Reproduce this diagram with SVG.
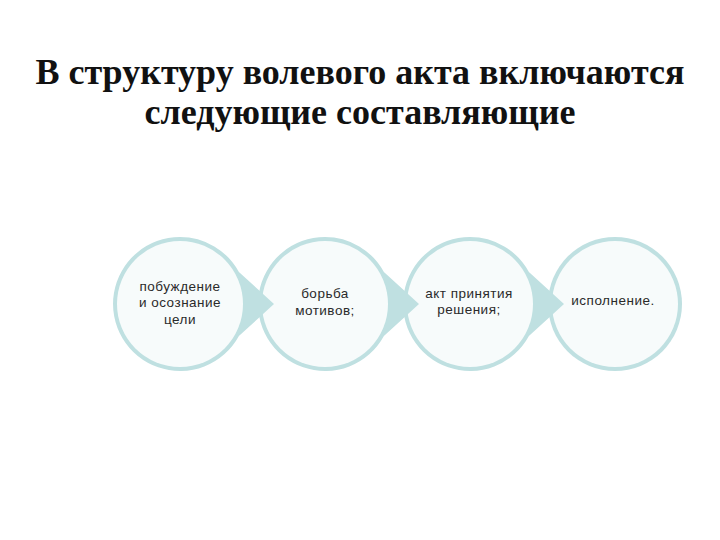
<svg xmlns="http://www.w3.org/2000/svg" width="720" height="540" viewBox="0 0 720 540">
<style>
.title{font-family:"Liberation Serif","Times New Roman",serif;font-weight:bold;font-size:36px;fill:#111;text-anchor:middle}
.lbl{font-family:"Liberation Sans",Arial,sans-serif;font-size:13.5px;fill:#2a2a2a;text-anchor:middle;letter-spacing:0.5px}
.shape{fill:#bfe0e1}
.inner{fill:#f7fbfb}
</style>
<defs>
<path id="drop" d="M 0 -67 A 67 67 0 1 0 58.9 32 L 94 0 L 58.9 -32 A 67 67 0 0 0 0 -67 Z"/>
</defs>
<rect width="720" height="540" fill="#ffffff"/>
<text class="title" x="360" y="84">В структуру волевого акта включаются</text>
<text class="title" x="360" y="124">следующие составляющие</text>
<g id="connectors"></g>
<g id="node4">
<circle cx="615" cy="304" r="67" class="shape"/>
<circle cx="615" cy="304" r="63" class="inner"/>
<text class="lbl" x="613" y="305">исполнение.</text>
</g>
<g id="node3">
<use href="#drop" class="shape" x="470" y="304"/>
<circle cx="470" cy="304" r="63" class="inner"/>
<text class="lbl" x="469" y="298">акт принятия</text>
<text class="lbl" x="469" y="314">решения;</text>
</g>
<g id="node2">
<use href="#drop" class="shape" x="325" y="304"/>
<circle cx="325" cy="304" r="63" class="inner"/>
<text class="lbl" x="325" y="298">борьба</text>
<text class="lbl" x="325" y="315">мотивов;</text>
</g>
<g id="node1">
<use href="#drop" class="shape" x="180" y="304"/>
<circle cx="180" cy="304" r="63" class="inner"/>
<text class="lbl" x="180" y="291">побуждение</text>
<text class="lbl" x="180" y="307">и осознание</text>
<text class="lbl" x="180" y="324">цели</text>
</g>
</svg>
